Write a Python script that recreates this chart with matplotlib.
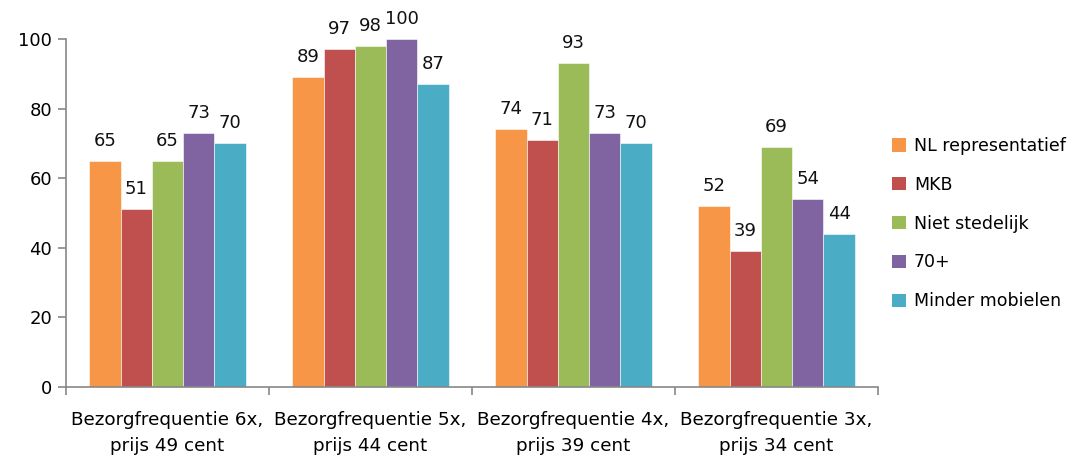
import numpy as np
import matplotlib
matplotlib.use("Agg")
import matplotlib.pyplot as plt
from matplotlib.patches import Patch

categories = ["Bezorgfrequentie 6x,\nprijs 49 cent",
              "Bezorgfrequentie 5x,\nprijs 44 cent",
              "Bezorgfrequentie 4x,\nprijs 39 cent",
              "Bezorgfrequentie 3x,\nprijs 34 cent"]
series_names = ["NL representatief", "MKB", "Niet stedelijk", "70+", "Minder mobielen"]
nl_repr = [65, 89, 74, 52]
mkb = [51, 97, 71, 39]
niet_stedelijk = [65, 98, 93, 69]
plus70 = [73, 100, 73, 54]
minder_mobiel = [70, 87, 70, 44]
series = [nl_repr, mkb, niet_stedelijk, plus70, minder_mobiel]
colors = ["#F79646", "#C0504D", "#9BBB59", "#8064A2", "#4BACC6"]

plt.rcParams['font.family'] = ['DejaVu Sans']

fig = plt.figure(figsize=(10.77, 4.58), dpi=100)
ax = fig.add_axes([0.0613, 0.155, 0.7540, 0.760])

x = np.arange(len(categories))
w = 0.154
for i, (vals, col) in enumerate(zip(series, colors)):
    pos = x + (i - 2) * w
    ax.bar(pos, vals, width=w, color=col, edgecolor='white', linewidth=0.4)
    for p, v in zip(pos, vals):
        ax.annotate(str(v), (p, v), xytext=(0, 8), textcoords='offset points',
                    ha='center', va='bottom', fontsize=13, color='#111111')

ax.set_xlim(-0.5, len(categories) - 0.5)
ax.set_ylim(0, 100)
ax.set_yticks([0, 20, 40, 60, 80, 100])
ax.set_xticks(x)
ax.set_xticklabels(categories, fontsize=13.2, linespacing=1.6)
ax.set_xticks(np.arange(-0.5, len(categories)), minor=True)
ax.tick_params(axis='x', which='major', length=0, pad=17)
ax.tick_params(axis='x', which='minor', length=6, color='#888888', width=1.2)
ax.tick_params(axis='y', length=6, color='#888888', width=1.2, labelsize=13, pad=4)

for s in ['top', 'right']:
    ax.spines[s].set_visible(False)
for s in ['left', 'bottom']:
    ax.spines[s].set_color('#888888')
    ax.spines[s].set_linewidth(1.2)

handles = [Patch(facecolor=c, edgecolor='none') for c in colors]
fig.legend(handles, series_names, loc='upper left', bbox_to_anchor=(0.814, 0.735),
           frameon=False, fontsize=12.5, handlelength=0.8, handleheight=0.8,
           handletextpad=0.45, labelspacing=1.2)

fig.savefig("out.png", dpi=100)
